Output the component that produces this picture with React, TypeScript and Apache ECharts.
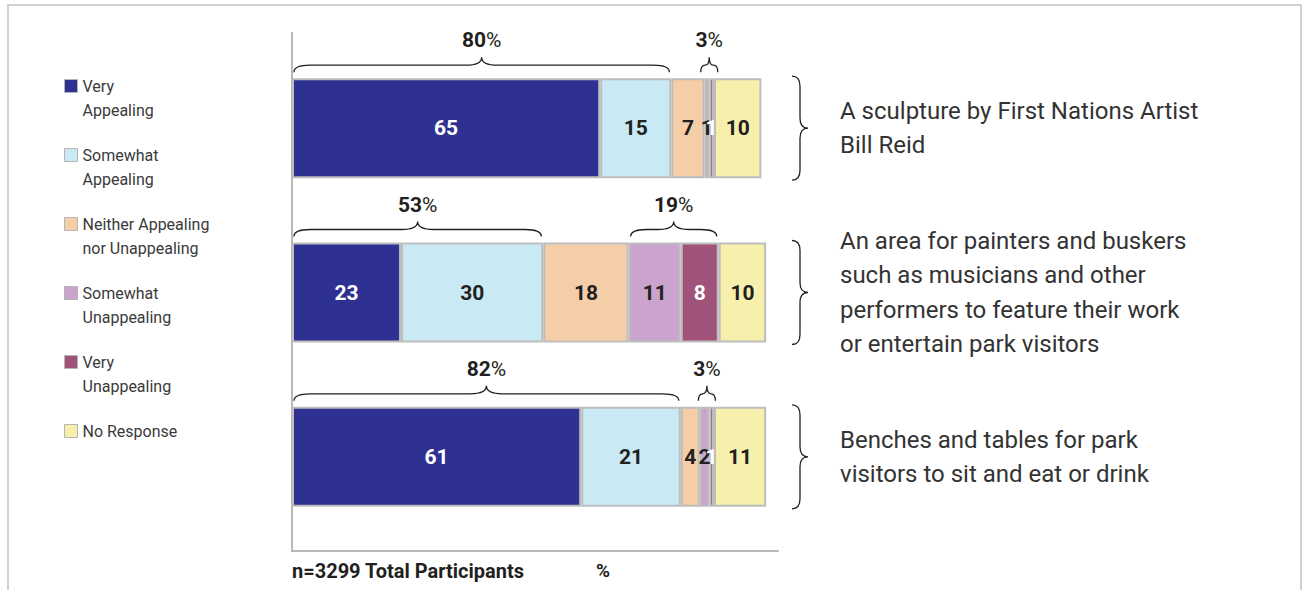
import React, { useEffect, useRef } from "react";
import * as echarts from "echarts";

const categories = [
  "A sculpture by First Nations Artist\nBill Reid",
  "An area for painters and buskers\nsuch as musicians and other\nperformers to feature their work\nor entertain park visitors",
  "Benches and tables for park\nvisitors to sit and eat or drink",
];
const seriesNames = [
  "Very Appealing",
  "Somewhat Appealing",
  "Neither Appealing nor Unappealing",
  "Somewhat Unappealing",
  "Very Unappealing",
  "No Response",
];
const legendLabels = [
  "Very\nAppealing",
  "Somewhat\nAppealing",
  "Neither Appealing\nnor Unappealing",
  "Somewhat\nUnappealing",
  "Very\nUnappealing",
  "No Response",
];
const veryAppealing = [65, 23, 61];
const somewhatAppealing = [15, 30, 21];
const neitherAppealing = [7, 18, 4];
const somewhatUnappealing = [1, 11, 2];
const veryUnappealing = [1, 8, 1];
const noResponse = [10, 10, 11];
const appealingTotals = [80, 53, 82];
const unappealingTotals = [3, 19, 3];
const footnote = "n=3299 Total Participants";
const axisUnit = "%";

const seriesValues = [
  veryAppealing,
  somewhatAppealing,
  neitherAppealing,
  somewhatUnappealing,
  veryUnappealing,
  noResponse,
];
const colors = ["#2e3192", "#c9e9f4", "#f5cea8", "#caa4cc", "#a0527a", "#f6f0ac"];
const labelColors = ["#ffffff", "#231f20", "#231f20", "#231f20", "#ffffff", "#231f20"];

const FONT = "Roboto, 'Liberation Sans', sans-serif";
const BAR_W = 100;
const X_MAX = 102.5;

// pad every legend label to three lines so that its first line sits beside the icon
const padLegend = (s: string) => {
  const lines = s.split("\n");
  return lines.length >= 2 ? "\n" + s : "\n" + s + "\n";
};

export default function App() {
  const ref = useRef<HTMLDivElement>(null);

  useEffect(() => {
    if (!ref.current) return;
    const chart = echarts.init(ref.current, undefined, { renderer: "svg" });

    // brace data derived from the values: [category, start, end, total]
    const braceData: number[][] = [];
    categories.forEach((_, i) => {
      const a = veryAppealing[i] + somewhatAppealing[i];
      braceData.push([i, 0, a, appealingTotals[i]]);
      const s = a + neitherAppealing[i];
      const e = s + somewhatUnappealing[i] + veryUnappealing[i];
      braceData.push([i, s, e, unappealingTotals[i]]);
    });

    const barSeries = seriesNames.map((name, k) => ({
      name,
      type: "bar",
      stack: "total",
      barWidth: BAR_W,
      data: seriesValues[k],
      itemStyle: { color: colors[k], borderColor: "#bdbdbd", borderWidth: 2 },
      label: {
        show: true,
        position: "inside",
        color: labelColors[k],
        fontSize: 21,
        fontWeight: "bold",
        fontFamily: FONT,
      },
      emphasis: { disabled: true },
    }));

    const topBraces = {
      type: "custom",
      name: "topBraces",
      silent: true,
      data: braceData,
      encode: { x: [1, 2], y: 0 },
      z: 5,
      renderItem: (params: any, api: any) => {
        const cat = api.value(0);
        const p1 = api.coord([api.value(1), cat]);
        const p2 = api.coord([api.value(2), cat]);
        let x1 = p1[0] + 2;
        let x2 = p2[0] - 2;
        const minW = 17;
        if (x2 - x1 < minW) {
          const mm = (x1 + x2) / 2;
          x1 = mm - minW / 2;
          x2 = mm + minW / 2;
        }
        const top = p1[1] - BAR_W / 2;
        const yEnd = top - 6;
        const yLine = top - 13;
        const yTip = top - 21;
        const m = (x1 + x2) / 2;
        const r = Math.min(16, (x2 - x1) / 4);
        const d =
          `M${x1},${yEnd} Q${x1},${yLine} ${x1 + r},${yLine} L${m - r},${yLine} ` +
          `Q${m},${yLine} ${m},${yTip} Q${m},${yLine} ${m + r},${yLine} ` +
          `L${x2 - r},${yLine} Q${x2},${yLine} ${x2},${yEnd}`;
        return {
          type: "group",
          children: [
            {
              type: "path",
              shape: { pathData: d },
              style: { fill: "none", stroke: "#231f20", lineWidth: 1.3 },
            },
            {
              type: "text",
              style: {
                text: `{b|${api.value(3)}}{p|%}`,
                x: m,
                y: top - 38,
                align: "center",
                verticalAlign: "middle",
                rich: {
                  b: { fontSize: 21, fontWeight: "bold", fontFamily: FONT, fill: "#231f20" },
                  p: { fontSize: 21, fontWeight: "normal", fontFamily: FONT, fill: "#231f20" },
                },
              },
            },
          ],
        };
      },
    };

    const sideBraces = {
      type: "custom",
      name: "sideBraces",
      silent: true,
      data: categories.map((_, i) => [X_MAX, i]),
      encode: { x: 0, y: 1 },
      renderItem: (params: any, api: any) => {
        const p = api.coord([api.value(0), api.value(1)]);
        const x0 = p[0] + 14;
        const xl = x0 + 8;
        const xt = x0 + 16;
        const y1 = p[1] - BAR_W / 2 - 2;
        const y2 = p[1] + BAR_W / 2 + 2;
        const m = p[1];
        const r = 10;
        const d =
          `M${x0},${y1} Q${xl},${y1} ${xl},${y1 + r} L${xl},${m - r} ` +
          `Q${xl},${m} ${xt},${m} Q${xl},${m} ${xl},${m + r} ` +
          `L${xl},${y2 - r} Q${xl},${y2} ${x0},${y2}`;
        return {
          type: "path",
          shape: { pathData: d },
          style: { fill: "none", stroke: "#231f20", lineWidth: 1.3 },
        };
      },
    };

    chart.setOption({
      animation: false,
      textStyle: { fontFamily: FONT },
      grid: { left: 292, top: 46, right: 524, bottom: 51, containLabel: false },
      legend: {
        orient: "vertical",
        left: 64,
        top: 50,
        padding: 0,
        itemGap: -3,
        itemWidth: 13,
        itemHeight: 13,
        icon: "rect",
        selectedMode: false,
        itemStyle: { borderColor: "#b5b5b5", borderWidth: 1 },
        formatter: (name: string) => padLegend(legendLabels[seriesNames.indexOf(name)]),
        textStyle: {
          fontSize: 16,
          color: "#3a3a3a",
          lineHeight: 24,
          fontFamily: FONT,
          backgroundColor: "rgba(0,0,0,0)",
        },
        data: seriesNames,
      },
      xAxis: {
        type: "value",
        min: 0,
        max: X_MAX,
        offset: 12,
        axisLine: { show: true, lineStyle: { color: "#b8b8b8", width: 2 } },
        axisTick: { show: false },
        axisLabel: { show: false },
        splitLine: { show: false },
      },
      yAxis: {
        type: "category",
        data: categories,
        inverse: true,
        position: "right",
        axisLine: { show: false },
        axisTick: { show: false },
        splitLine: { show: false },
        axisLabel: {
          margin: 62,
          align: "left",
          fontSize: 24,
          lineHeight: 34.5,
          color: "#333333",
          fontFamily: FONT,
          padding: [4, 0, 0, 0],
        },
      },
      graphic: [
        {
          type: "polyline",
          shape: { points: [[8, 600], [8, 5], [1301, 5], [1301, 600]] },
          style: { fill: "none", stroke: "#d0d0d0", lineWidth: 2 },
          silent: true,
        },
        {
          type: "line",
          shape: { x1: 292, y1: 32, x2: 292, y2: 552 },
          style: { stroke: "#b8b8b8", lineWidth: 2 },
          silent: true,
        },
        {
          type: "text",
          left: 292,
          top: 561,
          style: {
            text: footnote,
            fontSize: 20,
            fontWeight: "bold",
            fontFamily: FONT,
            fill: "#231f20",
          },
        },
        {
          type: "text",
          left: 596,
          top: 561,
          style: {
            text: axisUnit,
            fontSize: 19,
            fontWeight: "bold",
            fontFamily: FONT,
            fill: "#231f20",
          },
        },
      ],
      series: [...barSeries, topBraces, sideBraces],
    });

    return () => chart.dispose();
  }, []);

  return (
    <div
      ref={ref}
      style={{ position: "fixed", left: 0, top: 0, width: 1302, height: 590, background: "#fff" }}
    />
  );
}
